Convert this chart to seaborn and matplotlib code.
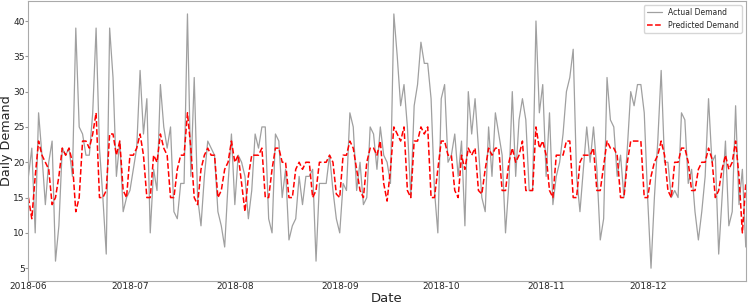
import numpy as np
import pandas as pd
import seaborn as sns
import matplotlib.pyplot as plt

# daily values, 2018-06-01 .. 2018-12-30
actual = [18, 22, 10, 27, 21, 14, 20, 23, 6, 11,
          22, 21, 22, 18, 39, 25, 24, 21, 21, 27,
          39, 22, 15, 7, 39, 32, 18, 23, 13, 15,
          16, 19, 22, 33, 24, 29, 10, 19, 16, 31,
          25, 22, 25, 13, 12, 17, 17, 41, 18, 32,
          15, 11, 18, 23, 22, 21, 13, 11, 8, 17,
          24, 14, 21, 20, 18, 12, 16, 24, 22, 25,
          25, 12, 10, 24, 23, 15, 19, 9, 11, 12,
          18, 14, 18, 18, 19, 6, 17, 17, 17, 21,
          16, 12, 10, 17, 16, 27, 25, 16, 20, 14,
          15, 25, 24, 19, 25, 21, 20, 17, 41, 35,
          28, 31, 25, 15, 28, 31, 37, 34, 34, 29,
          16, 10, 29, 31, 20, 21, 24, 18, 23, 11,
          30, 24, 29, 22, 15, 13, 25, 18, 27, 24,
          21, 10, 17, 30, 18, 26, 29, 26, 16, 16,
          40, 27, 31, 18, 27, 14, 18, 20, 24, 30,
          32, 36, 18, 13, 19, 25, 20, 25, 19, 9,
          12, 32, 26, 25, 18, 21, 15, 22, 30, 28,
          31, 31, 27, 15, 5, 15, 23, 33, 20, 20,
          15, 16, 15, 27, 26, 17, 19, 13, 9, 13,
          18, 29, 20, 21, 7, 15, 23, 11, 13, 28,
          14, 19, 8]

predicted = [15, 12, 18, 23, 21, 20, 19, 14, 15, 18,
             22, 21, 22, 20, 13, 15, 23, 23, 22, 24,
             27, 15, 15, 16, 24, 24, 21, 23, 16, 15,
             21, 21, 22, 24, 21, 15, 15, 21, 20, 24,
             22, 21, 15, 15, 19, 21, 21, 27, 22, 15,
             14, 19, 21, 22, 21, 21, 15, 16, 19, 20,
             23, 20, 21, 17, 13, 18, 21, 21, 21, 22,
             15, 15, 19, 22, 22, 20, 20, 15, 15, 19,
             20, 19, 20, 20, 15, 16, 20, 20, 20, 21,
             20, 15.5, 15, 21, 21, 23, 22, 19, 16, 15,
             20, 22, 22, 21, 23, 17, 14.5, 19, 25, 24,
             23, 25, 16, 15, 23, 23, 25, 24, 25, 15,
             15, 19, 23, 23, 21, 21, 16, 15, 21, 19,
             22, 21, 22, 16, 15.5, 19, 22, 21, 22, 22,
             16, 16, 20, 22, 20, 21, 23, 16, 16, 16,
             25, 22, 23, 21, 16, 15, 21, 21, 21, 23,
             23, 15, 15, 20, 21, 21, 21, 22, 16, 16,
             19.5, 23, 22, 22, 21, 15, 15, 20, 23, 23,
             23, 23, 15, 15, 18, 20, 21, 23, 21, 16,
             15, 20, 20, 22, 22, 20, 16, 16, 19, 20,
             20, 22, 20.5, 15, 16, 19, 21, 19, 20, 23,
             18, 10, 17]

dates = pd.date_range("2018-06-01", periods=len(actual), freq="D")
df = pd.DataFrame({"Date": dates, "Actual": actual, "Predicted": predicted})

sns.set_style("white")
fig, ax = plt.subplots(figsize=(7.48, 3.07), dpi=100)
fig.subplots_adjust(left=0.038, right=0.997, top=0.996, bottom=0.085)

sns.lineplot(x="Date", y="Actual", data=df, ax=ax, color="grey", alpha=0.75,
             linewidth=0.9, label="Actual Demand")
sns.lineplot(x="Date", y="Predicted", data=df, ax=ax, color="red",
             linestyle="--", linewidth=1.1, label="Predicted Demand")

ax.set_xlim(dates[0], dates[-1])
ax.set_xlabel("Date", fontsize=9.5)
ax.set_ylabel("Daily Demand", fontsize=9.2)
ax.xaxis.set_label_coords(0.5, -0.038)
ax.yaxis.set_label_coords(-0.0215, 0.5)
ax.tick_params(axis="x", labelsize=6.5, pad=1, length=0)
ax.tick_params(axis="y", labelsize=6.5, pad=0.5, length=2, left=True,
               color="#999999")
for s in ax.spines.values():
    s.set_color("#aaaaaa")
ax.legend(loc="upper right", fontsize=5.5, frameon=True)

fig.savefig("out.png")
